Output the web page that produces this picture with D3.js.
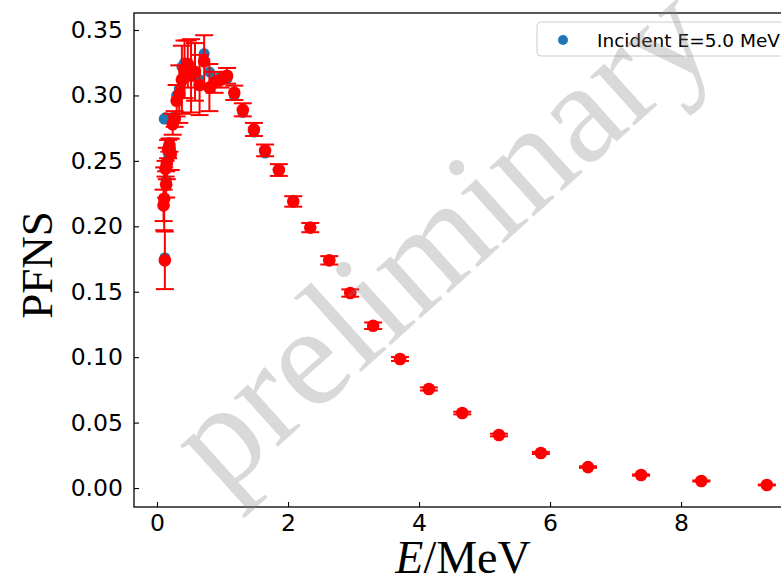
<!DOCTYPE html>
<html>
<head>
<meta charset="utf-8">
<script src="https://cdn.jsdelivr.net/npm/d3@7"></script>
<style>
html,body{margin:0;padding:0;background:#fff;overflow:hidden;}
svg{display:block;}
</style>
</head>
<body>
<svg id="chart" width="781" height="579"></svg>
<script>
// ---- data ----
const energy = [0.10,0.11,0.12,0.13,0.14,0.15,0.17,0.19,0.21,0.24,0.27,0.30,0.34,0.38,0.42,0.47,0.52,0.58,0.65,0.72,0.80,0.88,0.97,1.07,1.18,1.31,1.48,1.65,1.86,2.08,2.34,2.63,2.95,3.30,3.71,4.15,4.66,5.22,5.86,6.58,7.39,8.31,9.31];
const pfnsRed = [0.216,0.221,0.174,0.244,0.232,0.248,0.259,0.262,0.255,0.278,0.282,0.296,0.301,0.312,0.320,0.324,0.315,0.318,0.308,0.326,0.306,0.310,0.312,0.315,0.302,0.289,0.274,0.258,0.243,0.219,0.199,0.174,0.149,0.124,0.0986,0.0757,0.0573,0.0405,0.0268,0.0160,0.0099,0.0054,0.0023];
const errRed = [0.012,0.024,0.022,0.006,0.010,0.012,0.007,0.005,0.012,0.008,0.006,0.012,0.022,0.026,0.022,0.018,0.028,0.022,0.023,0.020,0.018,0.008,0.006,0.006,0.0055,0.005,0.005,0.0045,0.0045,0.004,0.0035,0.0032,0.0028,0.0025,0.0015,0.0012,0.0010,0.0010,0.0008,0.0006,0.0005,0.0004,0.0003];
const pfnsBlue = [0.217,0.282,0.176,0.283,0.235,0.250,0.256,0.264,0.258,0.280,0.284,0.300,0.305,0.322,0.325,0.321,0.318,0.316,0.312,0.332,0.318,0.312,0.314,0.313,0.300,0.287,0.272,0.256,0.242,0.220,0.199,0.174,0.149,0.124,0.0986,0.0757,0.0573,0.0405,0.0268,0.0160,0.0099,0.0054,0.0023];
const yTicks = [0.00,0.05,0.10,0.15,0.20,0.25,0.30,0.35];
const xTicks = [0,2,4,6,8];
const legendLabel = "Incident E=5.0 MeV";
const watermark = "preliminary";

// ---- layout ----
const svg = d3.select("#chart");
const mLeft = 134, mTop = 13, mBottom = 507, mRight = 797;
const x = d3.scaleLinear().domain([-0.351, 9.77]).range([mLeft, mRight]);
const y = d3.scaleLinear().domain([-0.0145, 0.363]).range([mBottom, mTop]);

// axes
const gx = svg.append("g").attr("transform", `translate(0,${mBottom})`)
  .call(d3.axisBottom(x).tickValues(xTicks).tickFormat(d3.format("d")).tickSizeInner(-5).tickSizeOuter(0).tickPadding(7));
const gy = svg.append("g").attr("transform", `translate(${mLeft},0)`)
  .call(d3.axisLeft(y).tickValues(yTicks).tickFormat(d3.format(".2f")).tickSizeInner(-5).tickSizeOuter(0).tickPadding(11));
[gx, gy].forEach(g => {
  g.select(".domain").remove();
  g.selectAll(".tick line").attr("stroke", "#000").attr("stroke-width", 1.1);
  g.selectAll(".tick text").attr("font-family", "DejaVu Sans").attr("font-size", 23.5).attr("fill", "#000");
});

// frame
svg.append("rect").attr("x", mLeft).attr("y", mTop).attr("width", mRight - mLeft).attr("height", mBottom - mTop)
  .attr("fill", "none").attr("stroke", "#000").attr("stroke-width", 1.3);

const plot = svg.append("g");
// blue scatter
plot.selectAll("circle.blue").data(energy).join("circle").attr("class", "blue")
  .attr("cx", d => x(d)).attr("cy", (d, i) => y(pfnsBlue[i])).attr("r", 5.5).attr("fill", "#1f77b4");

// red errorbars
const red = plot.selectAll("g.red").data(energy).join("g").attr("class", "red");
red.append("line").attr("x1", d => x(d)).attr("x2", d => x(d))
  .attr("y1", (d, i) => y(pfnsRed[i] - errRed[i])).attr("y2", (d, i) => y(pfnsRed[i] + errRed[i]))
  .attr("stroke", "red").attr("stroke-width", 2);
[-1, 1].forEach(s => {
  red.append("line").attr("x1", d => x(d) - 9).attr("x2", d => x(d) + 9)
    .attr("y1", (d, i) => y(pfnsRed[i] + s * errRed[i])).attr("y2", (d, i) => y(pfnsRed[i] + s * errRed[i]))
    .attr("stroke", "red").attr("stroke-width", 2);
});
red.append("circle").attr("cx", d => x(d)).attr("cy", (d, i) => y(pfnsRed[i])).attr("r", 6.3).attr("fill", "red");

// axis labels
svg.append("text").attr("transform", `translate(52,265) rotate(-90)`).attr("text-anchor", "middle")
  .attr("font-family", "Liberation Serif").attr("font-size", 45).text("PFNS");
const xl = svg.append("text").attr("x", 463).attr("y", 573).attr("text-anchor", "middle")
  .attr("font-family", "Liberation Serif").attr("font-size", 46);
xl.append("tspan").attr("font-style", "italic").text("E");
xl.append("tspan").text("/MeV");

// legend
const lg = svg.append("g");
lg.append("rect").attr("x", 537).attr("y", 22).attr("width", 252).attr("height", 34).attr("rx", 4)
  .attr("fill", "#fff").attr("fill-opacity", 0.8).attr("stroke", "#cccccc").attr("stroke-width", 1);
lg.append("circle").attr("cx", 563).attr("cy", 40).attr("r", 5).attr("fill", "#1f77b4");
lg.append("text").attr("x", 597).attr("y", 46.5).attr("font-family", "DejaVu Sans").attr("font-size", 18.5)
  .attr("fill", "#000").text(legendLabel);

// watermark
svg.append("text").attr("transform", "translate(222,497) rotate(-42)")
  .attr("font-family", "Liberation Serif").attr("font-size", 144)
  .attr("fill", "#808080").attr("fill-opacity", 0.3).text(watermark);
</script>
</body>
</html>
